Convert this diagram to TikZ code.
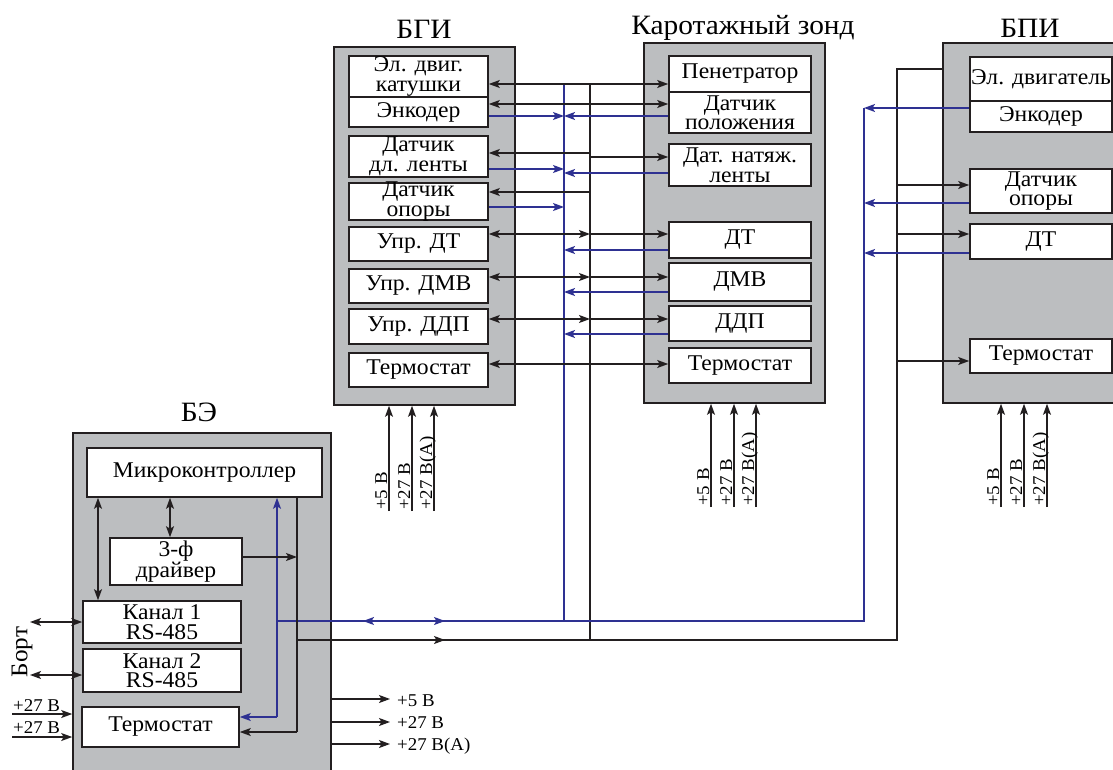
\documentclass[tikz,border=0pt]{standalone}
\usepackage{fontspec}
\setmainfont{Liberation Serif}[FakeStretch=1.05]
\usetikzlibrary{arrows.meta}
\definecolor{gfill}{RGB}{188,190,192}
\definecolor{bline}{RGB}{46,49,146}
\definecolor{kline}{RGB}{35,31,32}
\newcommand\mygrp[5]{\node[grp,minimum width={#4-#2},minimum height={#5-#3}] (#1) at ({(#2+#4)/2},{(#3+#5)/2}) {};}
\newcommand\mybox[6]{\node[box,minimum width={#4-#2},minimum height={#5-#3}] (#1) at ({(#2+#4)/2},{(#3+#5)/2}) {};
  \node[txt] (#1t) at (#1.center) {#6};}
\begin{document}
\begin{tikzpicture}[x=1pt,y=-1pt,
  >={Stealth[length=11pt,width=8pt,inset=2.5pt]},
  grp/.style={draw=kline,line width=1.6pt,fill=gfill,inner sep=0pt},
  box/.style={draw=kline,line width=1.6pt,fill=white,inner sep=0pt},
  txt/.style={inner sep=0pt,align=center,font=\fontsize{22.5}{19.5}\selectfont},
  kl/.style={draw=kline,line width=1.3pt},
  bl/.style={draw=bline,line width=1.3pt},
  ttl/.style={font=\fontsize{28}{28}\selectfont},
  pw/.style={font=\fontsize{18}{18}\selectfont,inner sep=0pt},
]
\useasboundingbox (0,0) rectangle (1113,770);
% group boxes
\mygrp{BGI}{334}{47}{515}{405}
\mygrp{KZ}{644}{43}{825}{403}
\mygrp{BPI}{943}{43}{1125}{403}
\mygrp{BE}{73}{433}{331}{785}
% titles
\node[ttl] (tBGI) at (424,29) {БГИ};
\node[ttl] (tKZ) at (743,28) {Каротажный зонд};
\node[ttl] (tBPI) at (1030,28) {БПИ};
\node[ttl] (tBE) at (199,412) {БЭ};
% BGI
\mybox{g1}{349}{56}{488}{97}{Эл. двиг.\\катушки}
\mybox{g2}{349}{97}{488}{127}{Энкодер}
\mybox{g3}{349}{136}{488}{177}{Датчик\\дл. ленты}
\mybox{g4}{349}{183}{488}{220}{Датчик\\опоры}
\mybox{g5}{349}{227}{488}{261}{Упр. ДТ}
\mybox{g6}{349}{269}{488}{303}{Упр. ДМВ}
\mybox{g7}{349}{309}{488}{344}{Упр. ДДП}
\mybox{g8}{349}{353}{488}{387}{Термостат}
% KZ
\mybox{z1}{669}{56}{811}{92}{Пенетратор}
\mybox{z2}{669}{92}{811}{133}{Датчик\\положения}
\mybox{z3}{669}{144}{811}{186}{Дат. натяж.\\ленты}
\mybox{z4}{669}{222}{811}{258}{ДТ}
\mybox{z5}{669}{263}{811}{301}{ДМВ}
\mybox{z6}{669}{306}{811}{341}{ДДП}
\mybox{z7}{669}{348}{811}{383}{Термостат}
% BPI
\mybox{p1}{970}{57}{1112}{101}{Эл. двигатель}
\mybox{p2}{970}{101}{1112}{132}{Энкодер}
\mybox{p3}{970}{169}{1112}{213}{Датчик\\опоры}
\mybox{p4}{970}{224}{1112}{259}{ДТ}
\mybox{p5}{970}{339}{1112}{373}{Термостат}
% BE
\mybox{e1}{87}{448}{322}{497}{Микроконтроллер}
\mybox{e2}{110}{538}{242}{585}{3-ф\\драйвер}
\mybox{e3}{83}{601}{241}{643}{Канал 1\\RS-485}
\mybox{e4}{83}{649}{241}{692}{Канал 2\\RS-485}
\mybox{e5}{82}{707}{239}{747}{Термостат}
% bus coordinates
\coordinate (bT) at (564,84);
\coordinate (bB) at (564,621);
\coordinate (kT) at (590,84);
\coordinate (kB) at (590,640);
\coordinate (bR) at (864,621);
\coordinate (bRT) at (864,108);
\coordinate (kR) at (897,640);
\coordinate (kRT) at (897,69);
\coordinate (eb) at (277,717);
\coordinate (ek) at (297,732);
% buses
\draw[bl] (bT) -- (bB);
\draw[kl] (kT) -- (kB);
\draw[bl] (eb |- bB) -- (bB) -- (bR) -- (bRT);
\draw[kl] (ek |- kB) -- (kB) -- (kR) -- (kRT) -- (BPI.west |- kRT);
\coordinate (ma1) at (363,621);
\coordinate (ma2) at (445,621);
\draw[bl,<->] (ma1) -- (ma2);
\coordinate (mk1) at (400,640);
\coordinate (mk2) at (445,640);
\draw[kl,->] (mk1) -- (mk2);
% BE internal
\draw[bl,->] (eb) -- (e1.south -| eb);
\draw[bl,->] (eb) -- (e5.east |- eb);
\draw[kl] (e1.south -| ek) -- (ek);
\draw[kl,->] (ek) -- (e5.east |- ek);
\draw[kl,->] (e2.east |- 0,557) -- (ek |- 0,557);
\draw[kl,<->] (e1.south -| 98,0) -- (e3.north -| 98,0);
\draw[kl,<->] (e1.south -| 170,0) -- (e2.north -| 170,0);
% Bort
\node[font=\fontsize{24}{24}\selectfont,rotate=90,inner sep=0pt] (bort) at (22,652) {Борт};
\coordinate (bo1) at (30,622);
\coordinate (bo2) at (30,675);
\draw[kl,<->] (bo1) -- (e3.west |- bo1);
\draw[kl,<->] (bo2) -- (e4.west |- bo2);
% +27 inputs
\coordinate (in1) at (12,714);
\coordinate (in2) at (12,737);
\draw[kl,->] (in1) -- (BE.west |- in1);
\draw[kl,->] (in2) -- (BE.west |- in2);
\node[pw,anchor=base west] (li1) at (13,711) {+27 В};
\node[pw,anchor=base west] (li2) at (13,733) {+27 В};
% outputs
\coordinate (o1) at (390,699);
\coordinate (o2) at (390,722);
\coordinate (o3) at (390,744);
\draw[kl,->] (BE.east |- o1) -- (o1);
\draw[kl,->] (BE.east |- o2) -- (o2);
\draw[kl,->] (BE.east |- o3) -- (o3);
\node[pw,anchor=base west] (lo1) at (397,706) {+5 В};
\node[pw,anchor=base west] (lo2) at (397,728) {+27 В};
\node[pw,anchor=base west] (lo3) at (397,750) {+27 В(А)};
% power into BGI
\coordinate (pg1) at (389,511);
\coordinate (pg2) at (412,511);
\coordinate (pg3) at (434,511);
\draw[kl,->] (pg1) -- (BGI.south -| pg1);
\draw[kl,->] (pg2) -- (BGI.south -| pg2);
\draw[kl,->] (pg3) -- (BGI.south -| pg3);
\node[pw,rotate=90,anchor=base west] (lg1) at (387,510) {+5 В};
\node[pw,rotate=90,anchor=base west] (lg2) at (410,510) {+27 В};
\node[pw,rotate=90,anchor=base west] (lg3) at (432,510) {+27 В(А)};
% power into KZ
\coordinate (pz1) at (711,507);
\coordinate (pz2) at (734,507);
\coordinate (pz3) at (756,507);
\draw[kl,->] (pz1) -- (KZ.south -| pz1);
\draw[kl,->] (pz2) -- (KZ.south -| pz2);
\draw[kl,->] (pz3) -- (KZ.south -| pz3);
\node[pw,rotate=90,anchor=base west] (lz1) at (709,506) {+5 В};
\node[pw,rotate=90,anchor=base west] (lz2) at (732,506) {+27 В};
\node[pw,rotate=90,anchor=base west] (lz3) at (754,506) {+27 В(А)};
% power into BPI
\coordinate (pp1) at (1001,507);
\coordinate (pp2) at (1024,507);
\coordinate (pp3) at (1047,507);
\draw[kl,->] (pp1) -- (BPI.south -| pp1);
\draw[kl,->] (pp2) -- (BPI.south -| pp2);
\draw[kl,->] (pp3) -- (BPI.south -| pp3);
\node[pw,rotate=90,anchor=base west] (lp1) at (999,506) {+5 В};
\node[pw,rotate=90,anchor=base west] (lp2) at (1022,506) {+27 В};
\node[pw,rotate=90,anchor=base west] (lp3) at (1045,506) {+27 В(А)};
% BGI <-> KZ wiring
\draw[kl,<->] (g1.east |- 0,84) -- (z1.west |- 0,84);
\draw[kl,<->] (g2.east |- 0,104) -- (z2.west |- 0,104);
\draw[bl,->] (g2.east |- 0,116) -- (bT |- 0,116);
\draw[bl,->] (z2.west |- 0,116) -- (bT |- 0,116);
\draw[kl,->] (kT |- 0,153) -- (g3.east |- 0,153);
\draw[kl,->] (kT |- 0,157) -- (z3.west |- 0,157);
\draw[bl,->] (g3.east |- 0,169) -- (bT |- 0,169);
\draw[bl,->] (z3.west |- 0,173) -- (bT |- 0,173);
\draw[kl,->] (kT |- 0,192) -- (g4.east |- 0,192);
\draw[bl,->] (g4.east |- 0,207) -- (bT |- 0,207);
\draw[kl,<->] (g5.east |- 0,234) -- (kT |- 0,234);
\draw[kl,->] (kT |- 0,234) -- (z4.west |- 0,234);
\draw[bl,->] (z4.west |- 0,250) -- (bT |- 0,250);
\draw[kl,<->] (g6.east |- 0,277) -- (kT |- 0,277);
\draw[kl,->] (kT |- 0,277) -- (z5.west |- 0,277);
\draw[bl,->] (z5.west |- 0,292) -- (bT |- 0,292);
\draw[kl,<->] (g7.east |- 0,319) -- (kT |- 0,319);
\draw[kl,->] (kT |- 0,319) -- (z6.west |- 0,319);
\draw[bl,->] (z6.west |- 0,334) -- (bT |- 0,334);
\draw[kl,<->] (g8.east |- 0,364) -- (z7.west |- 0,364);
% BPI wiring
\draw[kl,->] (kR |- 0,185) -- (p3.west |- 0,185);
\draw[kl,->] (kR |- 0,234) -- (p4.west |- 0,234);
\draw[kl,->] (kR |- 0,361) -- (p5.west |- 0,361);
\draw[bl,->] (p2.west |- 0,108) -- (bRT);
\draw[bl,->] (p3.west |- 0,203) -- (bR |- 0,203);
\draw[bl,->] (p4.west |- 0,253) -- (bR |- 0,253);
\end{tikzpicture}
\end{document}
